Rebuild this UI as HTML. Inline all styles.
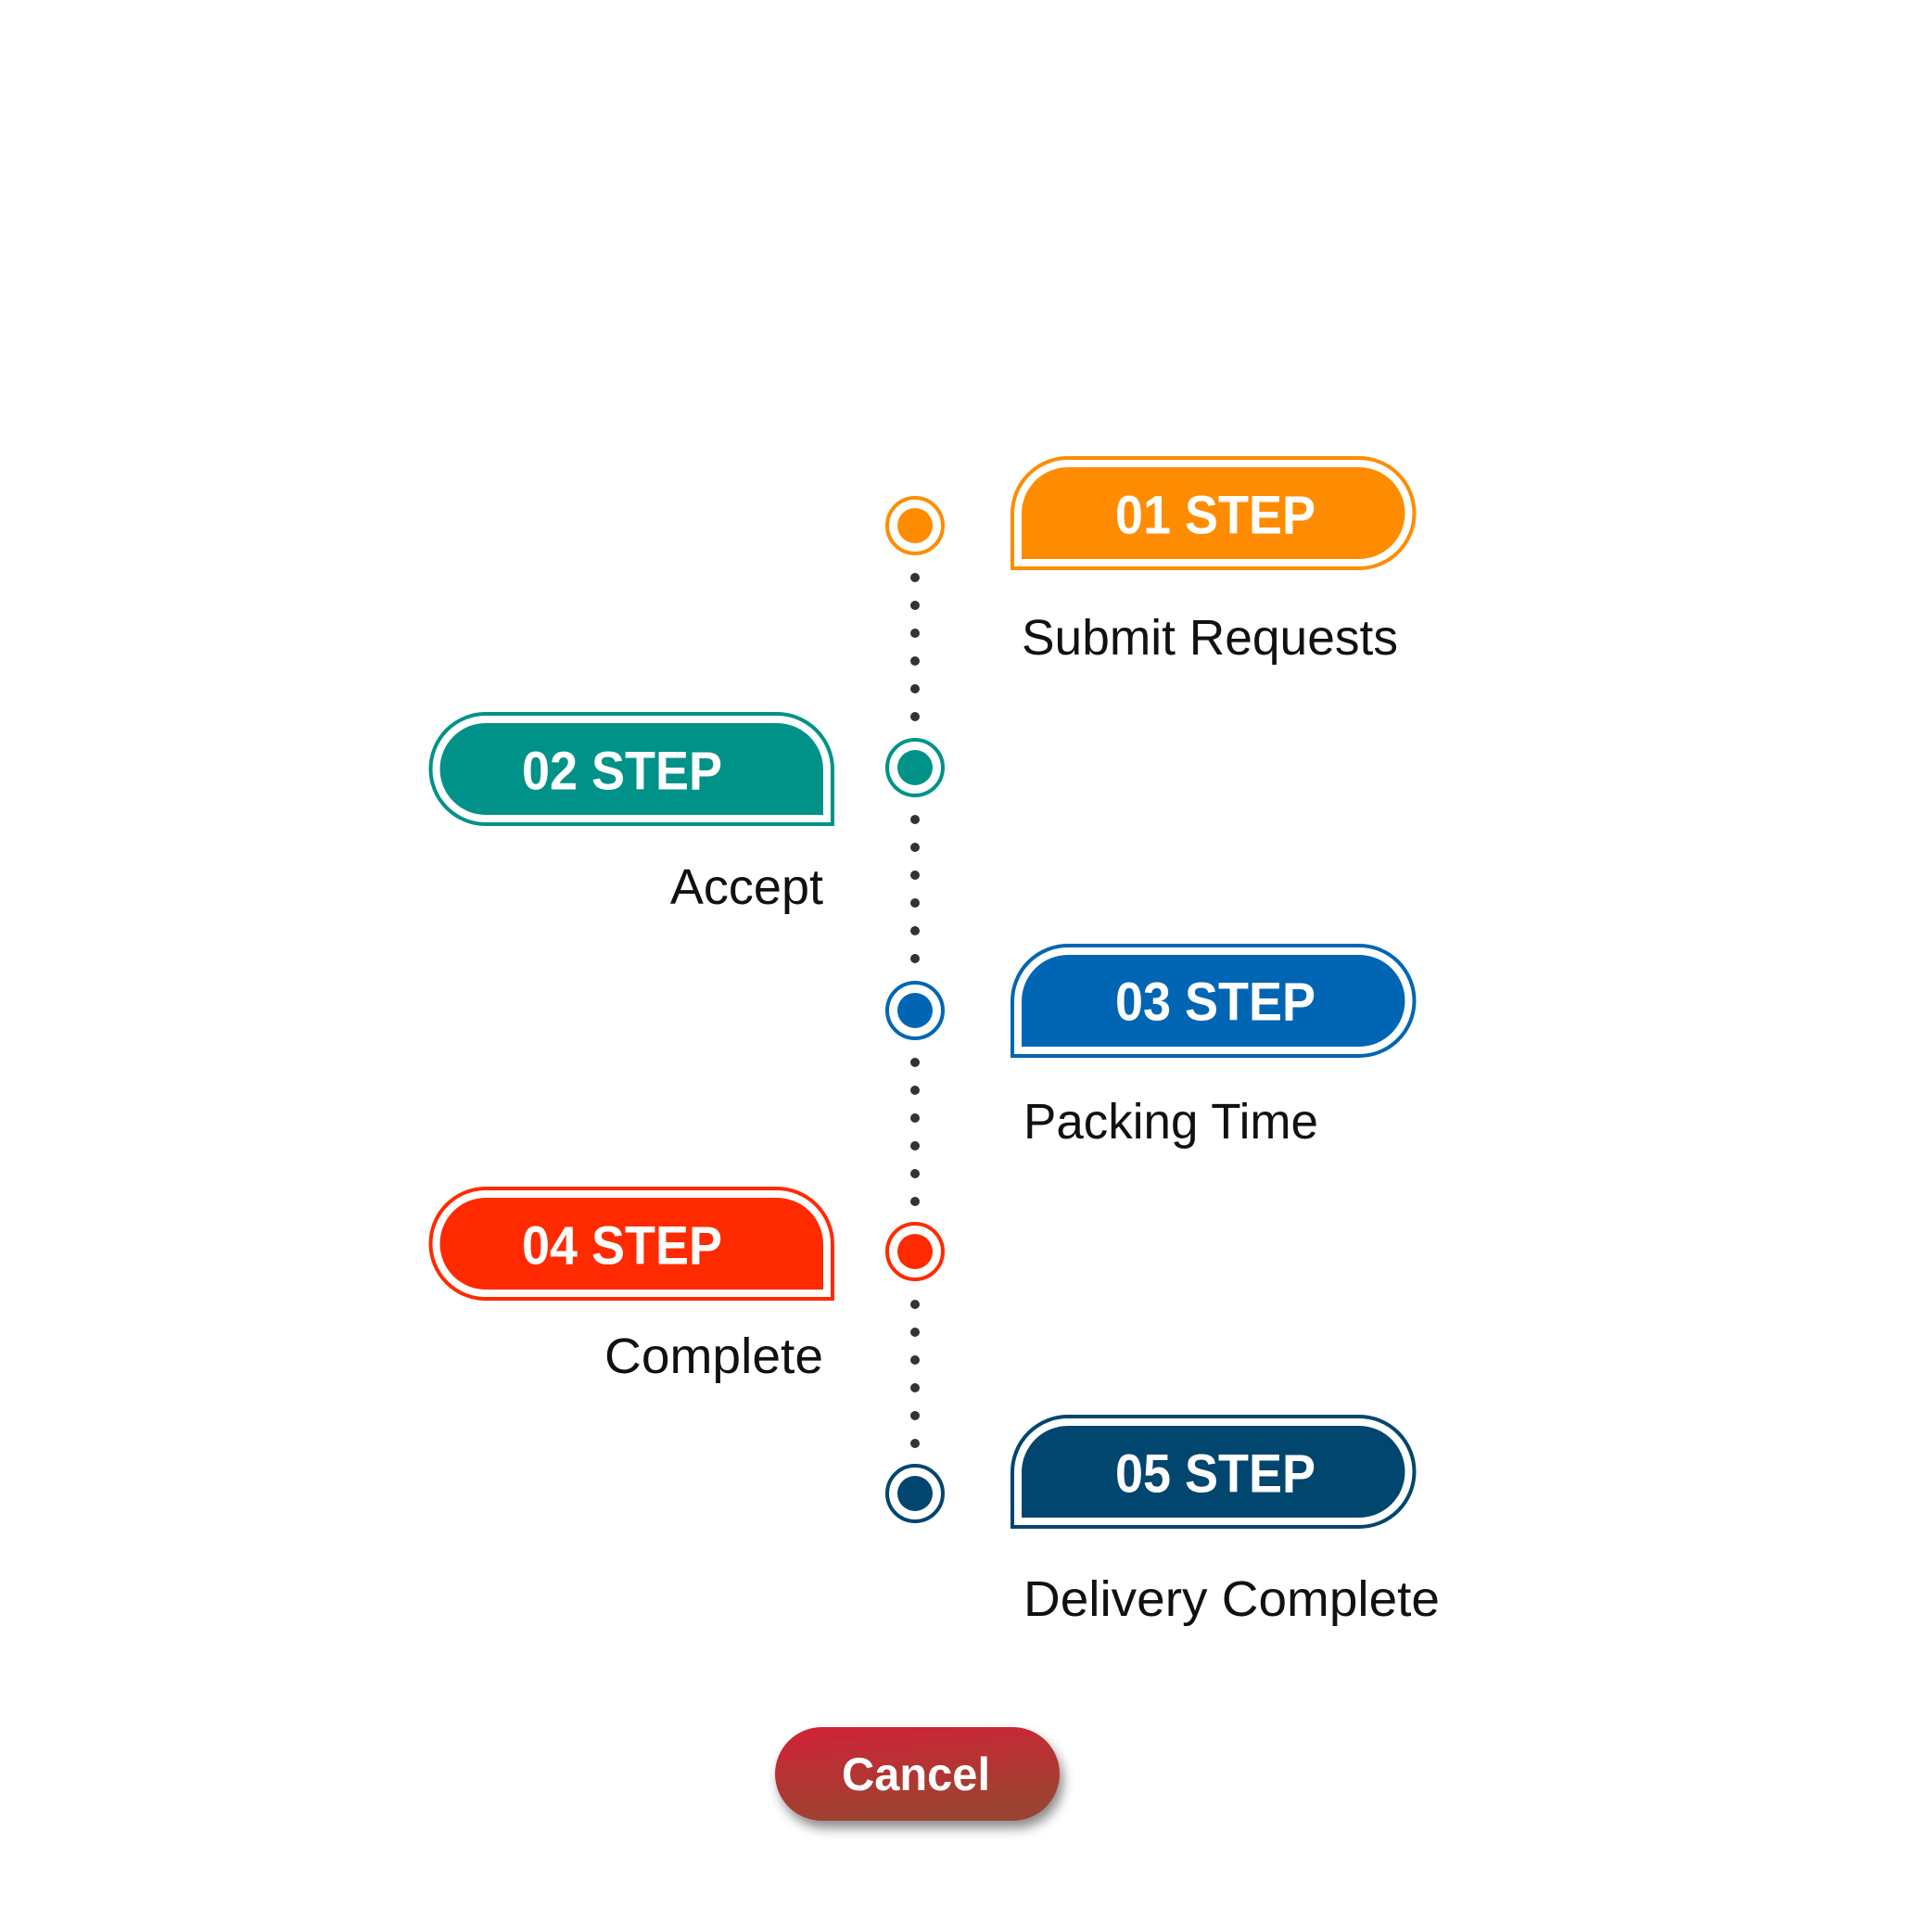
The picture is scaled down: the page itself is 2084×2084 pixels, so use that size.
<!DOCTYPE html>
<html><head><meta charset="utf-8"><style>
html,body{margin:0;padding:0;background:#fff;}
svg{display:block;}
.st{font-family:"Liberation Sans",sans-serif;font-weight:bold;font-size:58px;fill:#fff;text-anchor:middle;dominant-baseline:central;}
.lb{font-family:"Liberation Sans",sans-serif;font-size:54px;fill:#111;dominant-baseline:central;}
</style></head><body>
<svg width="2084" height="2084" viewBox="0 0 2084 2084" xmlns="http://www.w3.org/2000/svg">
<defs>
<g id="pill">
<path d="M2,121 L2,62 A60 60 0 0 1 62,2 L376,2 A59.5 59.5 0 0 1 376,121 Z" fill="none" stroke="currentColor" stroke-width="4"/>
<path d="M12,111 L12,62 A50 50 0 0 1 62,12 L376,12 A49.5 49.5 0 0 1 376,111 Z" fill="currentColor"/>
</g>
<linearGradient id="cg" x1="0" y1="0" x2="0.3" y2="1">
<stop offset="0" stop-color="#d12236"/><stop offset="1" stop-color="#9c4331"/>
</linearGradient>
<filter id="sh" x="-20%" y="-30%" width="140%" height="170%"><feDropShadow dx="4" dy="8" stdDeviation="6" flood-color="#000" flood-opacity="0.45"/></filter>
</defs>

<g fill="#333">
<circle cx="987" cy="623" r="5"/><circle cx="987" cy="653" r="5"/><circle cx="987" cy="683" r="5"/><circle cx="987" cy="713" r="5"/><circle cx="987" cy="743" r="5"/><circle cx="987" cy="773" r="5"/>
<circle cx="987" cy="884" r="5"/><circle cx="987" cy="914" r="5"/><circle cx="987" cy="944" r="5"/><circle cx="987" cy="974" r="5"/><circle cx="987" cy="1004" r="5"/><circle cx="987" cy="1034" r="5"/>
<circle cx="987" cy="1146" r="5"/><circle cx="987" cy="1176" r="5"/><circle cx="987" cy="1206" r="5"/><circle cx="987" cy="1236" r="5"/><circle cx="987" cy="1266" r="5"/><circle cx="987" cy="1296" r="5"/>
<circle cx="987" cy="1407" r="5"/><circle cx="987" cy="1437" r="5"/><circle cx="987" cy="1467" r="5"/><circle cx="987" cy="1497" r="5"/><circle cx="987" cy="1527" r="5"/><circle cx="987" cy="1557" r="5"/>
</g>

<g fill="#fff" stroke-width="4">
<circle cx="987" cy="567" r="30" stroke="#ff8c00"/><circle cx="987" cy="567" r="19" fill="#ff8c00" stroke="none"/>
<circle cx="987" cy="828" r="30" stroke="#009288"/><circle cx="987" cy="828" r="19" fill="#009288" stroke="none"/>
<circle cx="987" cy="1090" r="30" stroke="#0066b3"/><circle cx="987" cy="1090" r="19" fill="#0066b3" stroke="none"/>
<circle cx="987" cy="1350" r="30" stroke="#ff2a00"/><circle cx="987" cy="1350" r="19" fill="#ff2a00" stroke="none"/>
<circle cx="987" cy="1611" r="30" stroke="#00466e"/><circle cx="987" cy="1611" r="19" fill="#00466e" stroke="none"/>
</g>

<use href="#pill" transform="translate(1090,492)" style="color:#ff8c00"/>
<use href="#pill" transform="translate(900,768) scale(-1,1)" style="color:#009288"/>
<use href="#pill" transform="translate(1090,1018)" style="color:#0066b3"/>
<use href="#pill" transform="translate(900,1280) scale(-1,1)" style="color:#ff2a00"/>
<use href="#pill" transform="translate(1090,1526)" style="color:#00466e"/>

<text class="st" x="1311" y="556" textLength="216" lengthAdjust="spacingAndGlyphs">01 STEP</text>
<text class="st" x="671" y="832" textLength="216" lengthAdjust="spacingAndGlyphs">02 STEP</text>
<text class="st" x="1311" y="1081" textLength="216" lengthAdjust="spacingAndGlyphs">03 STEP</text>
<text class="st" x="671" y="1344" textLength="216" lengthAdjust="spacingAndGlyphs">04 STEP</text>
<text class="st" x="1311" y="1590" textLength="216" lengthAdjust="spacingAndGlyphs">05 STEP</text>

<text class="lb" x="1102" y="688" textLength="406" lengthAdjust="spacingAndGlyphs">Submit Requests</text>
<text class="lb" x="888" y="957" text-anchor="end">Accept</text>
<text class="lb" x="1104" y="1210" textLength="318" lengthAdjust="spacingAndGlyphs">Packing Time</text>
<text class="lb" x="888" y="1463" text-anchor="end" textLength="236" lengthAdjust="spacingAndGlyphs">Complete</text>
<text class="lb" x="1104" y="1725" textLength="449" lengthAdjust="spacingAndGlyphs">Delivery Complete</text>

<rect x="836" y="1863" width="307" height="101" rx="50.5" fill="url(#cg)" filter="url(#sh)"/>
<text x="988" y="1914" class="st" style="font-size:50px" textLength="160" lengthAdjust="spacingAndGlyphs">Cancel</text>
</svg>
</body></html>
